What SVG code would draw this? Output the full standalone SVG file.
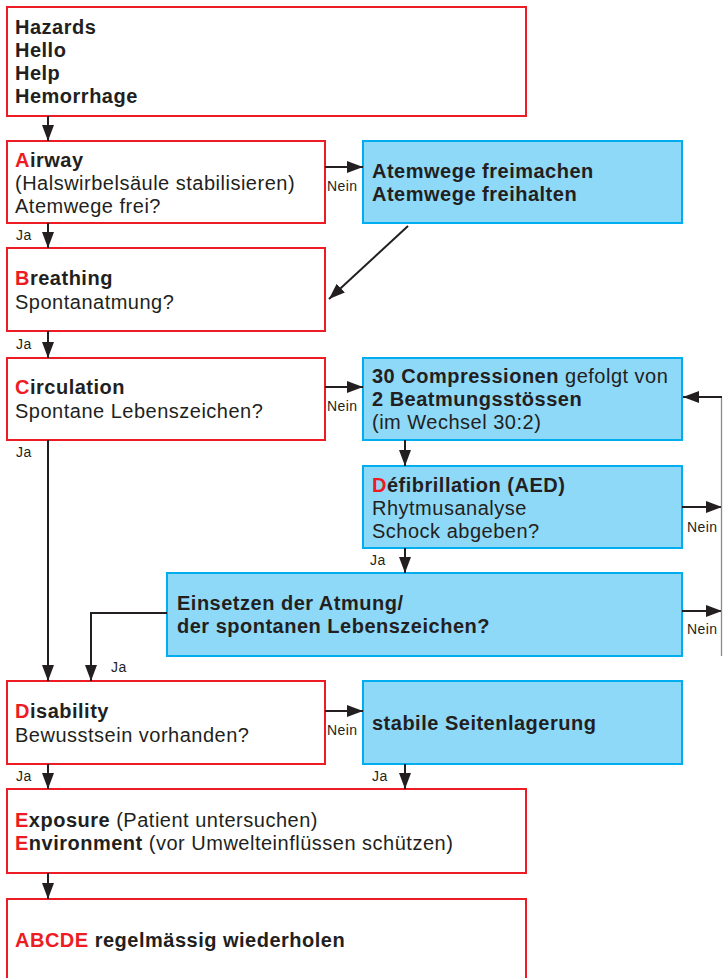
<svg xmlns="http://www.w3.org/2000/svg" width="723" height="978" viewBox="0 0 723 978">
<defs>
<marker id="ah" markerUnits="userSpaceOnUse" markerWidth="17" markerHeight="13" refX="16" refY="6" orient="auto">
<path d="M0,0 L16,6 L0,12 z" fill="#231f20"/>
</marker>
<style>
.r{fill:#fff;stroke:#ed1c24;stroke-width:2}
.b{fill:#8ed8f8;stroke:#00aeef;stroke-width:2}
.t{font-family:"Liberation Sans",Arial,sans-serif;font-size:20px;letter-spacing:0.5px;fill:#231f20}
.bd{font-weight:bold}
.red{fill:#ed1c24}
.s{font-family:"Liberation Sans",Arial,sans-serif;font-size:14px;letter-spacing:0.4px;fill:#231f20}
.c{fill:none;stroke:#231f20;stroke-width:2}
.g{fill:none;stroke:#8a8a8a;stroke-width:1.3}
</style>
</defs>
<rect width="723" height="978" fill="#fff"/>

<g id="hazards">
<rect class="r" x="7" y="7" width="519" height="109"/>
<text class="t bd" x="15" y="34">Hazards</text>
<text class="t bd" x="15" y="57">Hello</text>
<text class="t bd" x="15" y="80">Help</text>
<text class="t bd" x="15" y="103">Hemorrhage</text>
</g>

<g id="airway">
<rect class="r" x="7" y="141" width="318" height="82"/>
<text class="t" x="15" y="167"><tspan class="bd red">A</tspan><tspan class="bd">irway</tspan></text>
<text class="t" x="15" y="190">(Halswirbelsäule stabilisieren)</text>
<text class="t" x="15" y="213">Atemwege frei?</text>
</g>

<g id="atemwege">
<rect class="b" x="363" y="141" width="319" height="82"/>
<text class="t bd" x="372" y="178">Atemwege freimachen</text>
<text class="t bd" x="372" y="201">Atemwege freihalten</text>
</g>

<g id="breathing">
<rect class="r" x="7" y="248" width="318" height="83"/>
<text class="t" x="15" y="285"><tspan class="bd red">B</tspan><tspan class="bd">reathing</tspan></text>
<text class="t" x="15" y="309">Spontanatmung?</text>
</g>

<g id="circulation">
<rect class="r" x="7" y="358" width="318" height="82"/>
<text class="t" x="15" y="394"><tspan class="bd red">C</tspan><tspan class="bd">irculation</tspan></text>
<text class="t" x="15" y="418">Spontane Lebenszeichen?</text>
</g>

<g id="compressionen">
<rect class="b" x="363" y="358" width="319" height="82"/>
<text class="t" x="372" y="383"><tspan class="bd">30 Compressionen</tspan> gefolgt von</text>
<text class="t bd" x="372" y="406">2 Beatmungsstössen</text>
<text class="t" x="372" y="429">(im Wechsel 30:2)</text>
</g>

<g id="defibrillation">
<rect class="b" x="363" y="466" width="319" height="82"/>
<text class="t" x="372" y="492"><tspan class="bd red">D</tspan><tspan class="bd">éfibrillation (AED)</tspan></text>
<text class="t" x="372" y="515">Rhytmusanalyse</text>
<text class="t" x="372" y="538">Schock abgeben?</text>
</g>

<g id="einsetzen">
<rect class="b" x="167" y="573" width="515" height="83"/>
<text class="t bd" x="177" y="610">Einsetzen der Atmung/</text>
<text class="t bd" x="177" y="633">der spontanen Lebenszeichen?</text>
</g>

<g id="disability">
<rect class="r" x="7" y="681" width="318" height="83"/>
<text class="t" x="15" y="718"><tspan class="bd red">D</tspan><tspan class="bd">isability</tspan></text>
<text class="t" x="15" y="742">Bewusstsein vorhanden?</text>
</g>

<g id="seitenlagerung">
<rect class="b" x="363" y="681" width="319" height="83"/>
<text class="t bd" x="372" y="730">stabile Seitenlagerung</text>
</g>

<g id="exposure">
<rect class="r" x="7" y="789" width="519" height="84"/>
<text class="t" x="15" y="827"><tspan class="bd red">E</tspan><tspan class="bd">xposure</tspan> (Patient untersuchen)</text>
<text class="t" x="15" y="850"><tspan class="bd red">E</tspan><tspan class="bd">nvironment</tspan> (vor Umwelteinflüssen schützen)</text>
</g>

<g id="abcde">
<rect class="r" x="7" y="899" width="519" height="100"/>
<text class="t bd" x="15" y="947"><tspan class="red">ABCDE</tspan> regelmässig wiederholen</text>
</g>

<g id="connectors">
<line class="c" x1="48" y1="116" x2="48" y2="141" marker-end="url(#ah)"/>
<line class="c" x1="48" y1="223" x2="48" y2="248" marker-end="url(#ah)"/>
<line class="c" x1="48" y1="331" x2="48" y2="358" marker-end="url(#ah)"/>
<line class="c" x1="48" y1="440" x2="48" y2="681" marker-end="url(#ah)"/>
<line class="c" x1="48" y1="764" x2="48" y2="789" marker-end="url(#ah)"/>
<line class="c" x1="48" y1="873" x2="48" y2="899" marker-end="url(#ah)"/>
<line class="c" x1="325" y1="167" x2="363" y2="167" marker-end="url(#ah)"/>
<line class="c" x1="408" y1="226" x2="329" y2="299" marker-end="url(#ah)"/>
<line class="c" x1="325" y1="387" x2="363" y2="387" marker-end="url(#ah)"/>
<line class="c" x1="405" y1="440" x2="405" y2="466" marker-end="url(#ah)"/>
<line class="c" x1="405" y1="548" x2="405" y2="573" marker-end="url(#ah)"/>
<path class="c" d="M167,613 H91 V681" marker-end="url(#ah)"/>
<line class="c" x1="325" y1="711" x2="363" y2="711" marker-end="url(#ah)"/>
<line class="c" x1="405" y1="764" x2="405" y2="789" marker-end="url(#ah)"/>
<line class="c" x1="682" y1="507" x2="722" y2="507" marker-end="url(#ah)"/>
<line class="c" x1="682" y1="611" x2="722" y2="611" marker-end="url(#ah)"/>
<line class="g" x1="721.5" y1="397" x2="721.5" y2="656"/>
<line class="c" x1="722" y1="397" x2="683" y2="397" marker-end="url(#ah)"/>
<text class="s" x="16" y="240">Ja</text>
<text class="s" x="16" y="349">Ja</text>
<text class="s" x="16" y="457">Ja</text>
<text class="s" x="370" y="565">Ja</text>
<text class="s" x="111" y="672">Ja</text>
<text class="s" x="16" y="781">Ja</text>
<text class="s" x="372" y="781">Ja</text>
<text class="s" x="327" y="191">Nein</text>
<text class="s" x="327" y="411">Nein</text>
<text class="s" x="327" y="735">Nein</text>
<text class="s" x="687" y="532">Nein</text>
<text class="s" x="687" y="634">Nein</text>
</g>
</svg>
